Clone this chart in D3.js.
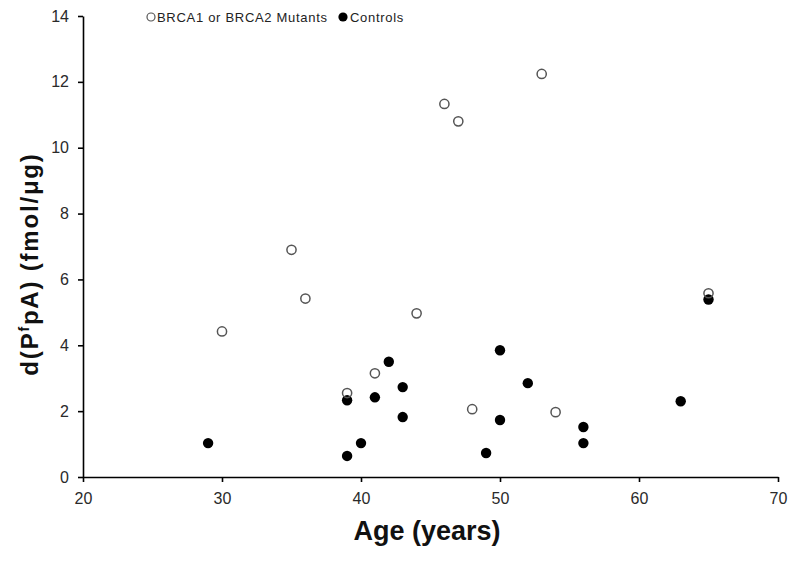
<!DOCTYPE html>
<html><head><meta charset="utf-8">
<script src="https://cdn.jsdelivr.net/npm/d3@7"></script>
<style>body{margin:0;background:#fff}svg{display:block}</style>
</head><body>
<svg id="c" width="800" height="563"></svg>
<script>
const mutantAges = [30, 35, 36, 39, 41, 44, 46, 47, 48, 53, 54, 65];
const mutantValues = [4.42, 6.9, 5.42, 2.55, 3.15, 4.97, 11.33, 10.8, 2.06, 12.24, 1.97, 5.58];
const controlAges = [29, 39, 39, 40, 41, 42, 43, 43, 49, 50, 50, 52, 56, 56, 63, 65];
const controlValues = [1.03, 2.33, 0.64, 1.03, 2.42, 3.5, 2.73, 1.82, 0.73, 3.85, 1.73, 2.85, 1.52, 1.03, 2.3, 5.39];
const xTicks = [20, 30, 40, 50, 60, 70];
const yTicks = [0, 2, 4, 6, 8, 10, 12, 14];
const seriesNames = ["BRCA1 or BRCA2 Mutants", "Controls"];

const svg = d3.select("#c");
const font = "'Liberation Sans', Arial, sans-serif";
const x = d3.scaleLinear().domain([20, 70]).range([83, 778]);
const y = d3.scaleLinear().domain([0, 14]).range([477, 16]);

const xa = svg.append("g").attr("transform", "translate(0,477)")
  .call(d3.axisBottom(x).tickValues(xTicks).tickSize(5).tickSizeOuter(0).tickPadding(11));
const ya = svg.append("g").attr("transform", "translate(83,0)")
  .call(d3.axisLeft(y).tickValues(yTicks).tickSize(5).tickSizeOuter(0).tickPadding(9));
[xa, ya].forEach(a => {
  a.selectAll("path,line").attr("stroke", "#000").attr("stroke-width", 1.6);
  a.selectAll("text").attr("font-family", font).attr("font-size", 16).attr("fill", "#2a2a2a");
});

svg.append("g").selectAll("circle").data(controlAges.map((a, i) => [a, controlValues[i]]))
  .join("circle").attr("cx", d => x(d[0])).attr("cy", d => y(d[1])).attr("r", 5.2)
  .attr("fill", "#000");
svg.append("g").selectAll("circle").data(mutantAges.map((a, i) => [a, mutantValues[i]]))
  .join("circle").attr("cx", d => x(d[0])).attr("cy", d => y(d[1])).attr("r", 4.6)
  .attr("fill", "#fff").attr("fill-opacity", 0).attr("stroke", "#555").attr("stroke-width", 1.5);

// legend
const lg = svg.append("g").attr("font-family", font).attr("font-size", 13).attr("fill", "#222")
  .attr("letter-spacing", 0.7);
lg.append("circle").attr("cx", 151).attr("cy", 17).attr("r", 4).attr("fill", "#fff").attr("stroke", "#555").attr("stroke-width", 1.2);
lg.append("text").attr("x", 157).attr("y", 21.5).text(seriesNames[0]);
lg.append("circle").attr("cx", 343).attr("cy", 17).attr("r", 4.6).attr("fill", "#000");
lg.append("text").attr("x", 350).attr("y", 21.5).text(seriesNames[1]);

// axis titles
svg.append("text").attr("x", 427).attr("y", 540).attr("text-anchor", "middle")
  .attr("font-family", font).attr("font-weight", "bold").attr("font-size", 27).attr("fill", "#111")
  .text("Age (years)");
const yt = svg.append("text").attr("transform", "translate(38,264) rotate(-90)").attr("text-anchor", "middle")
  .attr("font-family", font).attr("font-weight", "bold").attr("font-size", 24).attr("fill", "#111")
  .attr("letter-spacing", 1.8);
yt.append("tspan").text("d(P");
yt.append("tspan").attr("font-size", 14).attr("dy", -9).text("f");
yt.append("tspan").attr("dy", 9).text("pA) (fmol/μg)");
</script>
</body></html>
